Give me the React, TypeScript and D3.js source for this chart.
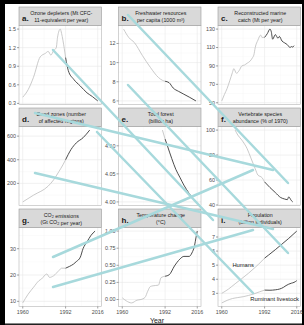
import React from "react";
import * as d3 from "d3";

const width = 304;
const height = 325;

// a. ozone depleters
const ozoneYears = [1960, 1964, 1968, 1973, 1977, 1979, 1981, 1983, 1985, 1986, 1988, 1989, 1990, 1992, 1994, 1998, 2003, 2008, 2012, 2016];
const ozoneValues = [0.4, 0.52, 0.72, 1.05, 1.11, 1.14, 1.08, 1.15, 1.2, 1.37, 1.5, 1.43, 1.32, 1.04, 0.83, 0.69, 0.58, 0.47, 0.41, 0.34];
const ozoneTicks = [0.3, 0.6, 0.9, 1.2, 1.5];

// b. freshwater per capita
const waterYears = [1961, 1965, 1969, 1975, 1981, 1987, 1990, 1992, 1995, 1998, 2002, 2006, 2010, 2015];
const waterValues = [13.5, 12.6, 12.1, 10.75, 9.5, 8.45, 8.15, 8.05, 7.9, 7.35, 7.0, 6.7, 6.4, 6.0];
const waterTicks = [6, 8, 10, 12];

// c. marine catch
const catchYears = [1960, 1962, 1964, 1966, 1968, 1969, 1971, 1973, 1975, 1977, 1979, 1981, 1983, 1984, 1985, 1987, 1989, 1990, 1992, 1994, 1996, 1997, 1998, 2000, 2002, 2003, 2005, 2007, 2009, 2011, 2012, 2013, 2014];
const catchValues = [52, 59, 65.5, 74, 83, 87, 82, 85, 90, 91, 93, 95, 99, 102, 110, 118, 123.5, 121, 121, 125, 130, 127, 119, 124, 120, 122, 117, 115, 113, 110, 111, 110.5, 112];
const catchTicks = [50, 70, 90, 110, 130];

// d. dead zones
const deadYears = [1960, 1968, 1979, 1983, 1987, 1990, 1992, 1996, 2000, 2005, 2010];
const deadValues = [43, 100, 177, 229, 300, 357, 400, 486, 543, 586, 651];
const deadTicks = [200, 400, 600];

// e. total forest
const forestYears = [1990, 1992, 1994, 1997, 2000, 2003, 2006, 2010, 2015];
const forestValues = [4.128, 4.112, 4.098, 4.077, 4.058, 4.044, 4.03, 4.015, 4.0];
const forestTicks = [4.0, 4.05, 4.1];

// f. vertebrate abundance
const vertYears = [1970, 1972, 1975, 1979, 1982, 1985, 1987, 1990, 1992, 1996, 2000, 2004, 2007, 2009, 2010, 2012, 2013];
const vertValues = [100, 96, 92, 85, 77, 69, 64, 62, 58.5, 54, 50, 46, 44.8, 44.3, 46.5, 43.5, 42.5];
const vertTicks = [40, 60, 80, 100];

// g. CO2 emissions
const co2Years = [1960, 1964, 1968, 1972, 1974, 1978, 1980, 1983, 1987, 1989, 1992, 1995, 1998, 2000, 2003, 2005, 2008, 2011, 2014];
const co2Values = [9.4, 12.7, 15.3, 17.8, 18.5, 20.4, 19.1, 19.7, 21.7, 22.6, 22.6, 23.3, 24.2, 25.1, 26.8, 30, 32.6, 35.1, 36.7];
const co2Ticks = [10, 20, 30];

// h. temperature change
const tempYears = [1960, 1963, 1967, 1971, 1974, 1977, 1979, 1981, 1983, 1987, 1989, 1992, 1995, 1999, 2003, 2006, 2010, 2012, 2014, 2015, 2016];
const tempValues = [0.025, -0.02, -0.05, -0.01, 0.0, 0.03, 0.12, 0.19, 0.2, 0.21, 0.32, 0.34, 0.36, 0.49, 0.59, 0.63, 0.63, 0.68, 0.79, 0.9, 1.0];
const tempTicks = [0, 0.25, 0.5, 0.75, 1.0];

// i. population
const humanYears = [1960, 1965, 1970, 1975, 1980, 1985, 1990, 1992, 1995, 2000, 2005, 2010, 2016];
const humanValues = [3.0, 3.3, 3.68, 4.05, 4.43, 4.85, 5.3, 5.5, 5.72, 6.1, 6.5, 6.9, 7.42];
const livestockYears = [1960, 1964, 1968, 1972, 1976, 1980, 1984, 1988, 1992, 1996, 2000, 2003, 2006, 2008, 2010, 2012, 2014, 2016];
const livestockValues = [2.32, 2.5, 2.63, 2.7, 2.76, 2.85, 2.96, 3.1, 3.23, 3.22, 3.25, 3.3, 3.42, 3.55, 3.65, 3.72, 3.78, 3.9];
const popTicks = [3, 4, 5, 6, 7];
const popLabels = [
  { text: "Humans", year: 1976, value: 5.0 },
  { text: "Ruminant livestock", year: 1999.5, value: 2.6 }
];

const xTicks = [1960, 1992, 2016];
const splitYear = 1992;

// light teal strokes lying across the picture
const overlay = [
  [53, 50, 213, 220],
  [128, 15, 288, 183],
  [128, 85, 288, 253],
  [35, 113, 273, 170],
  [35, 173, 273, 229],
  [53, 257, 253, 170],
  [53, 287, 253, 230],
  [97, 132, 253, 293]
];

const panels = [
  { letter: "a.", title: ["Ozone depleters (Mt CFC-", "11-equivalent per year)"], series: [[ozoneYears, ozoneValues]], ticks: ozoneTicks, fmt: ".1f" },
  { letter: "b.", title: ["Freshwater resources", "per capita (1000 m³)"], series: [[waterYears, waterValues]], ticks: waterTicks, fmt: "d" },
  { letter: "c.", title: ["Reconstructed marine", "catch (Mt per year)"], series: [[catchYears, catchValues]], ticks: catchTicks, fmt: "d" },
  { letter: "d.", title: ["Dead zones (number", "of affected regions)"], series: [[deadYears, deadValues]], ticks: deadTicks, fmt: "d" },
  { letter: "e.", title: ["Total forest", "(billion ha)"], series: [[forestYears, forestValues]], ticks: forestTicks, fmt: ".2f" },
  { letter: "f.", title: ["Vertebrate species", "abundance (% of 1970)"], series: [[vertYears, vertValues]], ticks: vertTicks, fmt: "d" },
  { letter: "g.", title: ["CO2 emissions", "(Gt CO2 per year)"], series: [[co2Years, co2Values]], ticks: co2Ticks, fmt: "d" },
  { letter: "h.", title: ["Temperature change", "(°C)"], series: [[tempYears, tempValues]], ticks: tempTicks, fmt: ".2f" },
  { letter: "i.", title: ["Population", "(billion individuals)"], series: [[humanYears, humanValues], [livestockYears, livestockValues]], ticks: popTicks, fmt: "d", labels: popLabels }
];

const colLeft = [19, 118.5, 218];
const rowTop = [7, 108, 209];
const panelW = 82.5;
const stripH = 18.5;
const plotH = 79;
const font = "'Liberation Sans', Arial, Helvetica, sans-serif";

// CO2 with a subscript 2
function TitleLine({ text, x, y }) {
  if (!text.includes("CO2")) {
    return <text x={x} y={y} textAnchor="middle">{text}</text>;
  }
  const parts = text.split("CO2");
  return (
    <text x={x} y={y} textAnchor="middle">
      {parts.map((p, i) => (
        <React.Fragment key={i}>
          <tspan>{p}</tspan>
          {i < parts.length - 1 && (
            <>
              <tspan>CO</tspan>
              <tspan fontSize={3.8} dy={1.3}>2</tspan>
              <tspan dy={-1.3}>{""}</tspan>
            </>
          )}
        </React.Fragment>
      ))}
    </text>
  );
}

function Panel({ p, col, row }) {
  const x0 = colLeft[col];
  const top = rowTop[row];
  const py = top + stripH;
  const x = d3.scaleLinear().domain([1960 - 2.8, 2016 + 2.8]).range([x0, x0 + panelW]);
  const all = p.series.flatMap((s) => s[1]);
  const [lo, hi] = d3.extent(all);
  const pad = (hi - lo) * 0.05;
  const y = d3.scaleLinear().domain([lo - pad, hi + pad]).range([py + plotH, py]);
  const fmt = d3.format(p.fmt);

  const step = p.ticks[1] - p.ticks[0];
  const yMinor = [p.ticks[0] - step / 2, ...p.ticks.map((t) => t + step / 2)].filter(
    (v) => v > y.domain()[0] && v < y.domain()[1]
  );
  const xMinor = [1976, 2004];

  const line = d3
    .line()
    .x((d) => x(d[0]))
    .y((d) => y(d[1]))
    .curve(d3.curveMonotoneX);

  return (
    <g>
      <rect x={x0} y={py} width={panelW} height={plotH} fill="#fff" />
      {yMinor.map((v) => (
        <line key={"ym" + v} x1={x0} x2={x0 + panelW} y1={y(v)} y2={y(v)} stroke="#f4f4f4" strokeWidth={0.4} />
      ))}
      {xMinor.map((v) => (
        <line key={"xm" + v} x1={x(v)} x2={x(v)} y1={py} y2={py + plotH} stroke="#f4f4f4" strokeWidth={0.4} />
      ))}
      {p.ticks.map((v) => (
        <line key={"y" + v} x1={x0} x2={x0 + panelW} y1={y(v)} y2={y(v)} stroke="#e8e8e8" strokeWidth={0.6} />
      ))}
      {xTicks.map((v) => (
        <line key={"x" + v} x1={x(v)} x2={x(v)} y1={py} y2={py + plotH} stroke="#e8e8e8" strokeWidth={0.6} />
      ))}
      {p.series.map(([yrs, vals], si) => {
        const pts = yrs.map((yr, i) => [yr, vals[i]]);
        const early = pts.filter((d) => d[0] <= splitYear);
        const late = pts.filter((d) => d[0] >= splitYear);
        return (
          <g key={si}>
            {early.length > 1 && <path d={line(early)} fill="none" stroke="#bdbdbd" strokeWidth={0.8} />}
            {late.length > 1 && <path d={line(late)} fill="none" stroke="#383838" strokeWidth={0.9} />}
          </g>
        );
      })}
      {(p.labels || []).map((l) => (
        <text key={l.text} x={x(l.year)} y={y(l.value) + 2} textAnchor="middle" fontSize={5.8} fill="#222">
          {l.text}
        </text>
      ))}
      <rect x={x0} y={py} width={panelW} height={plotH} fill="none" stroke="#b5b5b5" strokeWidth={0.6} />
      {p.ticks.map((v) => (
        <g key={"t" + v}>
          <line x1={x0 - 2} x2={x0} y1={y(v)} y2={y(v)} stroke="#444" strokeWidth={0.5} />
          <text x={x0 - 3} y={y(v) + 1.9} textAnchor="end" fontSize={5.4} fill="#4d4d4d">
            {fmt(v)}
          </text>
        </g>
      ))}
      {row === 2 &&
        xTicks.map((v) => (
          <g key={"xt" + v}>
            <line x1={x(v)} x2={x(v)} y1={py + plotH} y2={py + plotH + 2} stroke="#444" strokeWidth={0.5} />
            <text x={x(v)} y={py + plotH + 7.5} textAnchor="middle" fontSize={5.4} fill="#4d4d4d">
              {v}
            </text>
          </g>
        ))}
      <rect x={x0} y={top} width={panelW} height={stripH} fill="#d9d9d9" stroke="#9a9a9a" strokeWidth={0.6} />
      <text x={x0 + 3} y={top + 14} fontSize={8} fontWeight="bold" fill="#1a1a1a">
        {p.letter}
      </text>
      <g fontSize={5.3} fill="#1a1a1a">
        <TitleLine text={p.title[0]} x={x0 + panelW / 2 + 1} y={top + 8} />
        <TitleLine text={p.title[1]} x={x0 + panelW / 2 + 1} y={top + 15} />
      </g>
    </g>
  );
}

export default function App() {
  return (
    <div style={{ position: "absolute", left: 0, top: 0 }}>
      <svg width={width} height={height} style={{ display: "block", fontFamily: font }}>
        <rect x={0} y={0} width={width} height={height} fill="#000" />
        <rect x={5} y={4} width={297} height={319.5} fill="#fff" />
        <line x1={5} x2={302} y1={323.8} y2={323.8} stroke="#8a8a8a" strokeWidth={0.8} />
        {panels.map((p, i) => (
          <Panel key={p.letter} p={p} col={i % 3} row={Math.floor(i / 3)} />
        ))}
        <text x={157} y={323} textAnchor="middle" fontSize={7} fill="#1a1a1a">
          Year
        </text>
        {overlay.map((s, i) => (
          <line key={i} x1={s[0]} y1={s[1]} x2={s[2]} y2={s[3]} stroke="#a7d9dc" strokeWidth={2.5} strokeLinecap="round" />
        ))}
      </svg>
    </div>
  );
}
